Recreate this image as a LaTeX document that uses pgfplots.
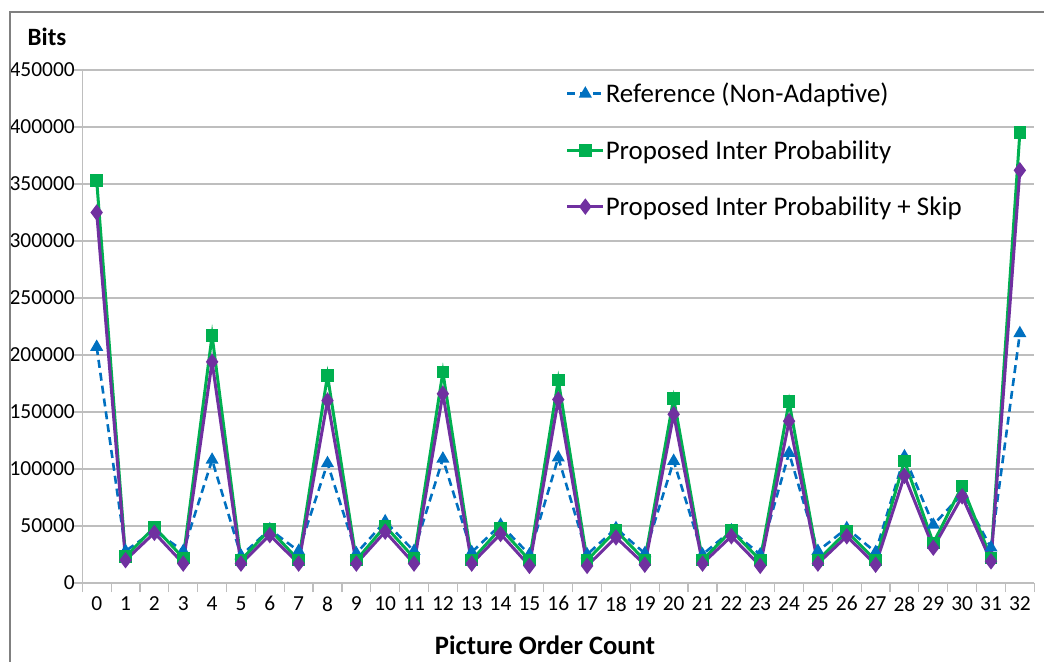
\documentclass[border=0pt]{standalone}
\usepackage{pgfplots}
\pgfplotsset{compat=1.18}
\usepackage{fontspec}
\setmainfont{Carlito}
\definecolor{refblue}{RGB}{0,112,192}
\definecolor{propgreen}{RGB}{0,176,80}
\definecolor{skippurple}{RGB}{112,48,160}
\definecolor{gridgray}{RGB}{190,190,190}
\definecolor{framegray}{RGB}{128,128,128}
\begin{document}
\begin{tikzpicture}
\begin{axis}[
  at={(0bp,0bp)}, anchor=origin,
  scale only axis,
  width=952bp, height=513bp,
  xmin=-0.5, xmax=32.5,
  ymin=0, ymax=450000,
  axis lines*=left,
  axis line style={draw=gridgray, line width=1.2bp},
  xtick={0,...,32},
  minor xtick={-0.5,0.5,...,32.5},
  major x tick style={draw=none},
  minor x tick style={draw=gridgray, line width=1.2bp},
  ytick={0,50000,...,450000},
  major y tick style={draw=gridgray, line width=1.2bp},
  tick align=outside,
  major tick length=9bp,
  minor tick length=9bp,
  ymajorgrids,
  grid style={draw=gridgray, line width=1.2bp},
  scaled y ticks=false,
  /pgf/number format/.cd, fixed, 1000 sep={}, assume math mode=true,
  /pgfplots/.cd,
  ticklabel style={font=\fontsize{21.5}{25}\selectfont, text=black},
  yticklabel style={xshift=5bp},
  xticklabel style={yshift=-1bp},
  legend style={at={(0.5046,0.9805)}, anchor=north west, draw=none, fill=none,
    font=\fontsize{27}{32}\selectfont, row sep=34bp,
    nodes={inner sep=1bp}},
  legend cell align=left,
  legend image code/.code={%
    \draw[#1, mark repeat=2, mark phase=2] plot coordinates {(0bp,0bp) (18bp,0bp) (36bp,0bp)};},
]
\addplot[color=refblue, line width=2.6bp, dash pattern=on 8bp off 5bp,
  mark=triangle*, mark size=5bp, mark options={solid}] coordinates {
(0,207000) (1,28000) (2,46000) (3,28000) (4,108000) (5,24000) (6,47000) (7,28000)
(8,105000) (9,26000) (10,54000) (11,28000) (12,109000) (13,27000) (14,51000) (15,25000)
(16,110000) (17,25000) (18,48000) (19,26000) (20,107000) (21,25000) (22,46000) (23,25000)
(24,114000) (25,28000) (26,48000) (27,27000) (28,111000) (29,51000) (30,78000) (31,31000)
(32,219000)};
\addlegendentry{Reference (Non-Adaptive)}
\addplot[color=propgreen, line width=3bp, mark=square*, mark size=4.8bp] coordinates {
(0,353000) (1,23000) (2,49000) (3,22000) (4,217000) (5,20000) (6,47000) (7,20000)
(8,182000) (9,20000) (10,50000) (11,22000) (12,185000) (13,20000) (14,48000) (15,20000)
(16,178000) (17,20000) (18,46000) (19,20000) (20,162000) (21,20000) (22,46000) (23,20000)
(24,159000) (25,20000) (26,45000) (27,20000) (28,107000) (29,35000) (30,85000) (31,22000)
(32,395000)};
\addlegendentry{Proposed Inter Probability}
\addplot[color=skippurple, line width=3bp, mark=diamond*, mark size=5.8bp] coordinates {
(0,325000) (1,20000) (2,44000) (3,17000) (4,194000) (5,17000) (6,42000) (7,17000)
(8,160000) (9,17000) (10,45000) (11,17000) (12,166000) (13,17000) (14,43000) (15,15000)
(16,161000) (17,15000) (18,40000) (19,16000) (20,148000) (21,17000) (22,41000) (23,15000)
(24,142000) (25,17000) (26,41000) (27,16000) (28,94000) (29,31000) (30,76000) (31,19000)
(32,362000)};
\addlegendentry{Proposed Inter Probability + Skip}
\end{axis}
\node[font=\bfseries\fontsize{25}{30}\selectfont] at (-49.7bp,546bp) {Bits};
\node[font=\bfseries\fontsize{26.7}{31}\selectfont] at (448.3bp,-62bp) {Picture Order Count};
\node[font=\fontsize{20}{24}\selectfont, anchor=base] at (433.3bp,587bp) {(c)};
\draw[framegray, line width=1.5bp] (-86.7bp,-90bp) -- (-86.7bp,571bp) -- (960bp,571bp);
\pgfresetboundingbox
\path[use as bounding box] (-96.7bp,-79bp) rectangle (947.3bp,583bp);
\end{tikzpicture}
\end{document}
